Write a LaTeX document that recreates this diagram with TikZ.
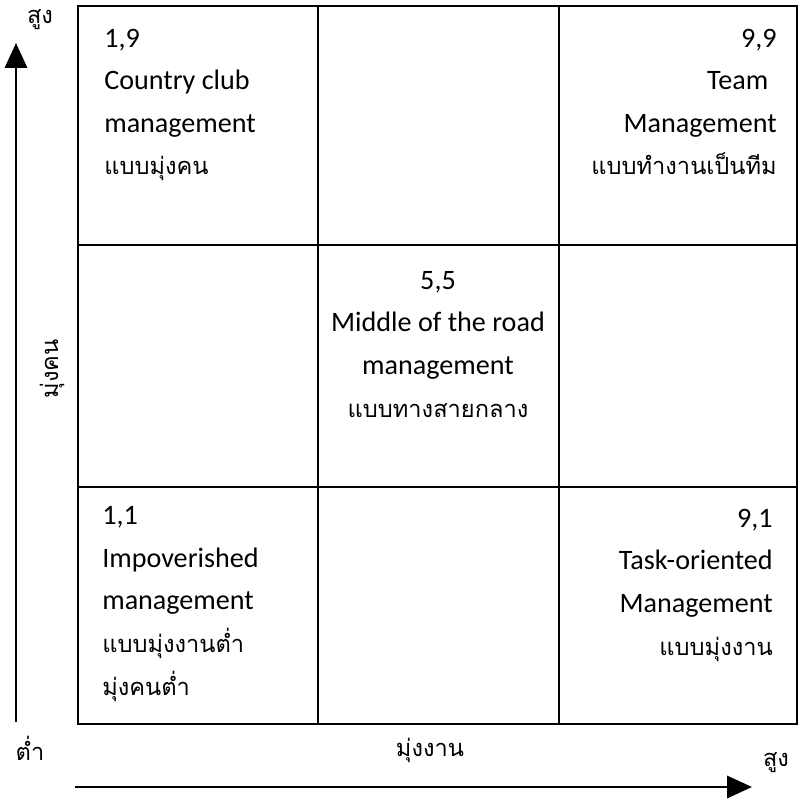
\documentclass[tikz,border=0pt]{standalone}
\usepackage{fontspec}
\setmainfont{Carlito}
\newfontfamily\thaifont[Script=Thai]{Loma}
\usetikzlibrary{arrows.meta}

\tikzset{
  gridline/.style={line width=1.8pt},
  axis/.style={line width=2.1pt, -{Triangle[length=0.62cm,width=0.55cm]}},
  celltext/.style={inner sep=0pt, font=\fontsize{20}{30.3}\selectfont},
  thai/.style={inner sep=0pt, font=\fontsize{16.8}{30.3}\selectfont\thaifont},
}
\newcommand{\thline}[1]{{\fontsize{16.8}{30.3}\selectfont\thaifont #1}}

\begin{document}
\begin{tikzpicture}[x=0.025cm, y=-0.025cm]
\useasboundingbox (0,0) rectangle (800,800);

% grid 3x3
\draw[gridline] (78,6) rectangle (797,724);
\draw[gridline] (318,6) -- (318,724);
\draw[gridline] (559,6) -- (559,724);
\draw[gridline] (78,245) -- (797,245);
\draw[gridline] (78,487) -- (797,487);

% base anchor = baseline of last line
\node (c19)[celltext, align=left, anchor=base west] at (104,175) {1,9\\Country club\\management\\\thline{แบบมุ่งคน}};
\node (c99)[celltext, align=right, anchor=base east] at (777,175) {9,9\\Team\kern0.3em\\Management\\\thline{แบบทำงานเป็นทีม}};
\node (c55)[celltext, align=center, anchor=base] at (438,417) {5,5\\Middle of the road\\management\\\thline{แบบทางสายกลาง}};
\node (c11)[celltext, align=left, anchor=base west] at (102,695) {1,1\\Impoverished\\management\\\thline{แบบมุ่งงานต่ำ}\\\thline{มุ่งคนต่ำ}};
\node (c91)[celltext, align=right, anchor=base east] at (773,655) {9,1\\Task-oriented\\Management\\\thline{แบบมุ่งงาน}};

% axes
\coordinate (y0) at (16,722);
\coordinate (y1) at (16,43);
\coordinate (x0) at (75,787);
\coordinate (x1) at (752,787);
\draw[axis] (y0) -- (y1);
\draw[axis] (x0) -- (x1);

\node (yhigh)[thai] at (40,20) {สูง};
\node (ylabel)[thai, rotate=90] at (52,369) {มุ่งคน};
\node (low)[thai] at (30,748) {ต่ำ};
\node (xlabel)[thai] at (430,750) {มุ่งงาน};
\node (xhigh)[thai] at (776,763) {สูง};

\end{tikzpicture}
\end{document}
